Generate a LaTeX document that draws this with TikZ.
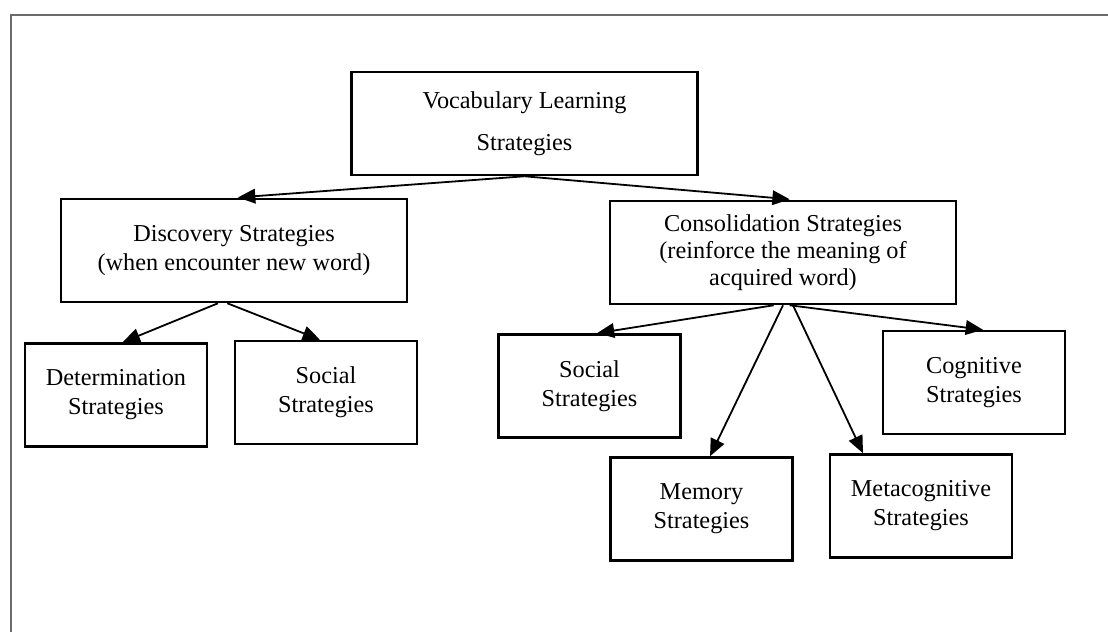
\documentclass[tikz,border=0pt]{standalone}
\usepackage{fontspec}
\setmainfont{Liberation Serif}
\usetikzlibrary{arrows.meta}
\definecolor{framegray}{rgb}{0.42,0.42,0.42}

\begin{document}
\begin{tikzpicture}[x=0.75pt,y=-0.75pt,
  box/.style={draw,line width=1.9pt,align=center,inner sep=0pt,font=\fontsize{18.2}{21.75}\selectfont},
  widebox/.style={box,minimum width=259.5pt,minimum height=77.25pt},
  smallbox/.style={box,minimum width=136.5pt,minimum height=77.25pt},
  link/.style={-{Triangle[length=13pt,width=11pt]},line width=1.35pt}]
\useasboundingbox (0,0) rectangle (1108,632);
\draw[framegray,line width=1.3pt] (11,632) -- (11,15) -- (1108,15);
\node[widebox,font=\fontsize{18.2}{31.5}\selectfont] (vls) at (524.5,123.5) {Vocabulary Learning\\Strategies};
\node[widebox] (disc) at (234,250.5) {Discovery Strategies\\(when encounter new word)};
\node[widebox,font=\fontsize{18.2}{20.25}\selectfont] (cons) at (783,252.5) {Consolidation Strategies\\(reinforce the meaning of\\acquired word)};
\node[smallbox] (det) at (116,395) {Determination\\Strategies};
\node[smallbox] (socl) at (326,392.5) {Social\\Strategies};
\node[smallbox] (socr) at (589.5,386) {Social\\Strategies};
\node[smallbox] (cog) at (974,382.5) {Cognitive\\Strategies};
\node[smallbox] (mem) at (701.5,509) {Memory\\Strategies};
\node[smallbox] (meta) at (921,506) {Metacognitive\\Strategies};
\draw[link,shorten >=3pt] (vls.south) -- (disc.north);
\draw[link,shorten >=4pt] (vls.south) -- ([xshift=9pt] cons.north);
\draw[link] ([xshift=-12pt] disc.south) -- ([xshift=5pt] det.north);
\draw[link] ([xshift=-5pt] disc.south) -- ([xshift=-4.5pt] socl.north);
\draw[link] ([xshift=-7pt] cons.south) -- ([xshift=5.6pt] socr.north);
\draw[link] (cons.south) -- ([xshift=6.4pt] mem.north);
\draw[link] ([xshift=7.5pt] cons.south) -- ([xshift=-43.5pt] meta.north);
\draw[link] ([xshift=5pt] cons.south) -- ([xshift=6.75pt] cog.north);
\end{tikzpicture}
\end{document}
